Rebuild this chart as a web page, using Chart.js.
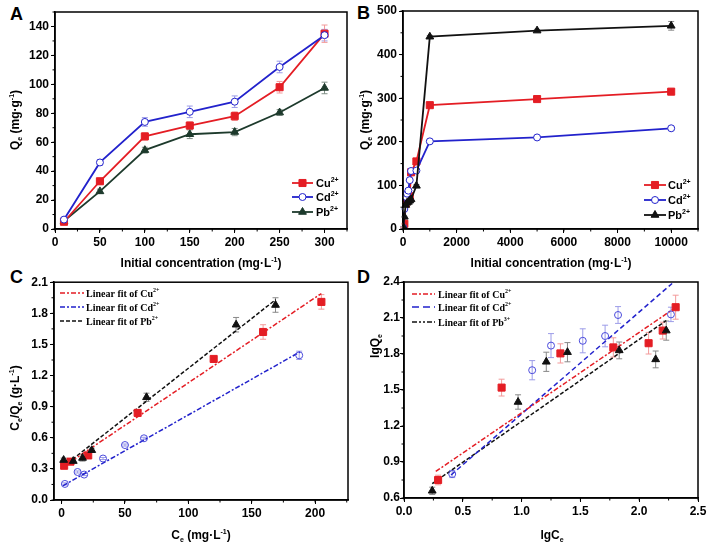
<!DOCTYPE html>
<html>
<head>
<meta charset="utf-8">
<script src="https://cdn.jsdelivr.net/npm/chart.js@4.4.0/dist/chart.umd.min.js"></script>
<style>
body { margin: 0; background: #fff; width: 709px; height: 547px; position: relative; overflow: hidden; }
canvas { position: absolute; }
.lab { position: absolute; font: bold 18px "Liberation Sans", Arial, sans-serif; line-height: 18px; color: #000; }
</style>
</head>
<body>
<div class="lab" style="left:10px;top:5px">A</div>
<div class="lab" style="left:357px;top:4px">B</div>
<div class="lab" style="left:10px;top:268px">C</div>
<div class="lab" style="left:357px;top:268px">D</div>
<canvas id="cA" width="354" height="273" style="left:0;top:0"></canvas>
<canvas id="cB" width="355" height="273" style="left:354px;top:0"></canvas>
<canvas id="cC" width="354" height="274" style="left:0;top:273px"></canvas>
<canvas id="cD" width="355" height="274" style="left:354px;top:273px"></canvas>
<script>
// ---- data ----
var ions = ['Cu', 'Cd', 'Pb'];

// A: Qe vs initial concentration (low range)
var concA = [10, 50, 100, 150, 200, 250, 300];
var cuA = [5, 33, 64, 71.5, 78, 98, 135];
var cdA = [6.5, 46, 74, 81, 88, 112, 134];
var pbA = [5.5, 26, 54.5, 65.5, 67, 80.5, 97.5];
var cuAErr = [1.5, 2, 2.5, 2.5, 3, 4, 6];
var cdAErr = [1.5, 2, 3, 4, 4, 4, 4];
var pbAErr = [1, 1.5, 2, 3, 2.5, 2, 4];

// B: Qe vs initial concentration (full range)
var concB = [10, 50, 100, 150, 200, 250, 300, 500, 1000, 5000, 10000];
var cuB = [3, 12, 58, 64, 68, 75, 130, 155, 284, 298, 315];
var cdB = [3, 46, 74, 81, 88, 112, 133, 134, 201, 210, 231];
var pbB = [5, 28, 55, 60, 62, 65, 68, 99, 441, 455, 466];
var cuBErr = [1, 1, 2, 2, 2, 2, 3, 3, 3, 3, 4];
var cdBErr = [1, 1, 2, 2, 2, 2, 3, 3, 3, 3, 3];
var pbBErr = [1, 1, 2, 2, 2, 2, 3, 3, 3, 3, 10];

// C: Langmuir, Ce/Qe vs Ce
var ceCu = [2, 7, 21, 60, 120, 159, 205];
var ratioCu = [0.33, 0.37, 0.43, 0.84, 1.36, 1.62, 1.91];
var ratioCuErr = [0.02, 0.01, 0.02, 0.03, 0.02, 0.07, 0.07];
var ceCd = [2.6, 12.6, 17.8, 32.7, 50, 65, 187.5];
var ratioCd = [0.155, 0.27, 0.245, 0.40, 0.53, 0.595, 1.395];
var ratioCdErr = [0.01, 0.01, 0.01, 0.01, 0.01, 0.01, 0.04];
var cePb = [1.6, 9.2, 16.5, 23.8, 67, 137.7, 168.8];
var ratioPb = [0.385, 0.375, 0.405, 0.48, 0.99, 1.69, 1.88];
var ratioPbErr = [0.02, 0.01, 0.03, 0.02, 0.04, 0.07, 0.07];
var cSlope = [0.0082, 0.0069, 0.0096];
var cIntercept = [0.31, 0.13, 0.31];
var cFrom = [1, 1, 1];
var cTo = [205, 188, 169];

// D: Freundlich, lgQe vs lgCe
var lgCeCu = [0.29, 0.83, 1.33, 1.78, 2.08, 2.20, 2.31];
var lgQeCu = [0.75, 1.52, 1.805, 1.855, 1.89, 1.995, 2.19];
var lgQeCuErr = [0.04, 0.07, 0.08, 0.08, 0.09, 0.07, 0.1];
var lgCeCd = [0.41, 1.09, 1.25, 1.52, 1.71, 1.82, 2.27];
var lgQeCd = [0.80, 1.665, 1.87, 1.91, 1.95, 2.125, 2.13];
var lgQeCdErr = [0.03, 0.08, 0.1, 0.1, 0.09, 0.07, 0.06];
var lgCePb = [0.24, 0.97, 1.21, 1.39, 1.83, 2.14, 2.23];
var lgQePb = [0.66, 1.40, 1.735, 1.815, 1.83, 1.755, 1.995];
var lgQePbErr = [0.03, 0.06, 0.08, 0.08, 0.07, 0.07, 0.08];
var dSlope = [0.67, 0.849, 0.683];
var dIntercept = [0.64, 0.452, 0.556];
var dFrom = [0.27, 0.40, 0.24];
var dTo = [2.30, 2.28, 2.23];

// tick values
var ticksAx = [0, 50, 100, 150, 200, 250, 300];
var ticksAy = [0, 20, 40, 60, 80, 100, 120, 140];
var ticksBx = [0, 2000, 4000, 6000, 8000, 10000];
var ticksBy = [0, 100, 200, 300, 400, 500];
var ticksCx = [0, 50, 100, 150, 200];
var ticksCy = [0, 0.3, 0.6, 0.9, 1.2, 1.5, 1.8, 2.1];
var ticksDx = [0, 0.5, 1.0, 1.5, 2.0, 2.5];
var ticksDy = [0.6, 0.9, 1.2, 1.5, 1.8, 2.1, 2.4];

var RED = '#e41d24', BLUE = '#2222cc', PBA = '#1d3a2c', BLK = '#111';
var SANS = '"Liberation Sans", Arial, sans-serif';
var SERIF = '"Liberation Serif", "Times New Roman", serif';

function pts(xs, ys) { return xs.map((x, i) => ({ x: x, y: ys[i] })); }
function fitPts(k) { return [cFrom[k], cTo[k]].map(x => ({ x: x, y: cIntercept[k] + cSlope[k] * x })); }
function fitPtsD(k) { return [dFrom[k], dTo[k]].map(x => ({ x: x, y: dIntercept[k] + dSlope[k] * x })); }

function drawMarker(ctx, style, x, y, r, fill, stroke) {
  ctx.save();
  ctx.setLineDash([]);
  ctx.fillStyle = fill; ctx.strokeStyle = stroke; ctx.lineWidth = 1;
  ctx.beginPath();
  if (style == 'rect') {
    var s = r * Math.SQRT1_2;
    ctx.rect(x - s, y - s, 2 * s, 2 * s);
  } else if (style == 'triangle') {
    var a = 0;
    ctx.moveTo(x + Math.sin(a) * r, y - Math.cos(a) * r);
    a += 2 * Math.PI / 3;
    ctx.lineTo(x + Math.sin(a) * r, y - Math.cos(a) * r);
    a += 2 * Math.PI / 3;
    ctx.lineTo(x + Math.sin(a) * r, y - Math.cos(a) * r);
    ctx.closePath();
  } else {
    ctx.arc(x, y, r, 0, Math.PI * 2);
  }
  ctx.fill(); ctx.stroke();
  ctx.restore();
}

// text with sub / superscripts: parts = [[text, ''|'sup'|'sub'], ...]
function richText(ctx, parts, x, y, size, family, align, rot) {
  var big = 'bold ' + size + 'px ' + family;
  var small = 'bold ' + Math.round(size * 0.62) + 'px ' + family;
  ctx.save();
  ctx.translate(x, y);
  if (rot) ctx.rotate(-Math.PI / 2);
  ctx.fillStyle = '#000';
  ctx.textBaseline = 'alphabetic';
  ctx.textAlign = 'left';
  var w = 0;
  parts.forEach(p => { ctx.font = p[1] ? small : big; w += ctx.measureText(p[0]).width; });
  var cx = align == 'left' ? 0 : -w / 2;
  var base = size * 0.36;
  parts.forEach(p => {
    ctx.font = p[1] ? small : big;
    var dy = p[1] == 'sup' ? -size * 0.45 : (p[1] == 'sub' ? size * 0.25 : 0);
    ctx.fillText(p[0], cx, base + dy);
    cx += ctx.measureText(p[0]).width;
  });
  ctx.restore();
}

var errorBars = {
  id: 'errorBars',
  beforeDatasetsDraw(chart) {
    var ctx = chart.ctx, xs = chart.scales.x, ys = chart.scales.y;
    chart.data.datasets.forEach(ds => {
      if (!ds.errors) return;
      ctx.save();
      ctx.strokeStyle = ds.errorColor;
      ctx.lineWidth = 1;
      ds.data.forEach((p, i) => {
        var e = ds.errors[i];
        if (!e) return;
        var px = xs.getPixelForValue(p.x);
        var y1 = ys.getPixelForValue(p.y - e), y2 = ys.getPixelForValue(p.y + e);
        ctx.beginPath();
        ctx.moveTo(px, y1); ctx.lineTo(px, y2);
        ctx.moveTo(px - 3, y1); ctx.lineTo(px + 3, y1);
        ctx.moveTo(px - 3, y2); ctx.lineTo(px + 3, y2);
        ctx.stroke();
      });
      ctx.restore();
    });
  }
};

function sup(name, charge) { return [[name, ''], [charge, 'sup']]; }

var extras = {
  cA: {
    minorX: 25, minorY: 10,
    xTitle: [[['Initial concentration (mg·L', ''], ['-1', 'sup'], [')', '']], 201, 263],
    yTitle: [[['Q', ''], ['e', 'sub'], [' (mg·g', ''], ['-1', 'sup'], [')', '']], 15, 120],
    legend: { x1: 292, x2: 313, tx: 316, ys: [183, 197, 212], family: SANS, size: 11,
      items: [
        { parts: sup('Cu', '2+'), color: RED, marker: 'rect', r: 5, fill: RED },
        { parts: sup('Cd', '2+'), color: BLUE, marker: 'circle', r: 3.5, fill: '#fff' },
        { parts: sup('Pb', '2+'), color: PBA, marker: 'triangle', r: 4.5, fill: PBA }
      ] }
  },
  cB: {
    minorX: 1000, minorY: 50,
    xTitle: [[['Initial concentration (mg·L', ''], ['-1', 'sup'], [')', '']], 197, 263],
    yTitle: [[['Q', ''], ['e', 'sub'], [' (mg·g', ''], ['-1', 'sup'], [')', '']], 11, 120],
    legend: { x1: 290, x2: 312, tx: 314, ys: [185, 200, 215], family: SANS, size: 11,
      items: [
        { parts: sup('Cu', '2+'), color: RED, marker: 'rect', r: 5, fill: RED },
        { parts: sup('Cd', '2+'), color: BLUE, marker: 'circle', r: 3.5, fill: '#fff' },
        { parts: sup('Pb', '2+'), color: BLK, marker: 'triangle', r: 4.5, fill: BLK }
      ] }
  },
  cC: {
    minorX: 25, minorY: 0.15,
    xTitle: [[['C', ''], ['e', 'sub'], [' (mg·L', ''], ['-1', 'sup'], [')', '']], 201, 262],
    yTitle: [[['C', ''], ['e', 'sub'], ['/Q', ''], ['e', 'sub'], [' (g·L', ''], ['-1', 'sup'], [')', '']], 15, 125],
    legend: { x1: 60, x2: 84, tx: 86, ys: [20, 34, 48], family: SERIF, size: 10,
      items: [
        { parts: [['Linear fit of Cu', ''], ['2+', 'sup']], color: RED, dash: [5, 2, 2, 2] },
        { parts: [['Linear fit of Cd', ''], ['2+', 'sup']], color: BLUE, dash: [5, 2, 2, 2] },
        { parts: [['Linear fit of Pb', ''], ['2+', 'sup']], color: BLK, dash: [4, 2] }
      ] }
  },
  cD: {
    minorX: 0.25, minorY: 0.15,
    xTitle: [[['lgC', ''], ['e', 'sub']], 198, 262],
    yTitle: [[['lgQ', ''], ['e', 'sub']], 21, 73],
    legend: { x1: 58, x2: 81, tx: 84, ys: [21, 34, 49], family: SERIF, size: 10,
      items: [
        { parts: [['Linear fit of Cu', ''], ['2+', 'sup']], color: RED, dash: [5, 2, 2, 2] },
        { parts: [['Linear fit of Cd', ''], ['2+', 'sup']], color: BLUE, dash: [7, 4] },
        { parts: [['Linear fit of Pb', ''], ['3+', 'sup']], color: BLK, dash: [5, 2, 2, 2, 2, 2] }
      ] }
  }
};

var extrasPlugin = {
  id: 'extras',
  afterDraw(chart) {
    var ex = extras[chart.canvas.id];
    var ctx = chart.ctx, a = chart.chartArea, xs = chart.scales.x, ys = chart.scales.y;
    ctx.save();
    // frame
    ctx.strokeStyle = '#000';
    ctx.lineWidth = 1.5;
    ctx.strokeRect(a.left, a.top, a.right - a.left, a.bottom - a.top);
    // minor ticks
    ctx.lineWidth = 1;
    ctx.beginPath();
    for (var k = Math.ceil(xs.min / ex.minorX); k * ex.minorX <= xs.max + 1e-9; k++) {
      var px = xs.getPixelForValue(k * ex.minorX);
      ctx.moveTo(px, a.bottom); ctx.lineTo(px, a.bottom + 2.5);
    }
    for (var j = Math.ceil(ys.min / ex.minorY - 1e-9); j * ex.minorY <= ys.max + 1e-9; j++) {
      var py = ys.getPixelForValue(j * ex.minorY);
      ctx.moveTo(a.left, py); ctx.lineTo(a.left - 2.5, py);
    }
    ctx.stroke();
    ctx.restore();
    // axis titles
    richText(ctx, ex.xTitle[0], ex.xTitle[1], ex.xTitle[2], 12, SANS, 'center', false);
    richText(ctx, ex.yTitle[0], ex.yTitle[1], ex.yTitle[2], 12, SANS, 'center', true);
    // legend
    var lg = ex.legend;
    lg.items.forEach((it, i) => {
      var y = lg.ys[i];
      ctx.save();
      ctx.strokeStyle = it.color;
      ctx.lineWidth = it.dash ? 1.5 : 1.8;
      ctx.setLineDash(it.dash || []);
      ctx.beginPath(); ctx.moveTo(lg.x1, y); ctx.lineTo(lg.x2, y); ctx.stroke();
      ctx.restore();
      if (it.marker) drawMarker(ctx, it.marker, (lg.x1 + lg.x2) / 2, y, it.r, it.fill, it.color);
      richText(ctx, it.parts, lg.tx, y, lg.size, lg.family, 'left', false);
    });
  }
};

var tickFont = { family: SANS, weight: 'bold', size: 12 };

function axis(dir, min, max, ticks, size, digits, pad) {
  return {
    type: 'linear', min: min, max: max,
    afterBuildTicks: s => { s.ticks = ticks.map(v => ({ value: v })); },
    afterFit: s => { if (dir == 'x') s.height = size; else s.width = size; },
    ticks: {
      font: tickFont, color: '#000', padding: pad == null ? 2 : pad, maxRotation: 0, autoSkip: false,
      callback: v => digits ? v.toFixed(digits) : String(v)
    },
    grid: { drawOnChartArea: false, drawTicks: true, tickLength: 4, color: '#000', tickColor: '#000', tickWidth: 1 },
    border: { display: true, color: '#000', width: 1.5 },
    title: { display: false }
  };
}

function makeChart(id, datasets, pad, xAxis, yAxis) {
  return new Chart(document.getElementById(id), {
    type: 'scatter',
    data: { datasets: datasets },
    options: {
      responsive: false, animation: false,
      layout: { padding: pad },
      plugins: { legend: { display: false }, tooltip: { enabled: false } },
      scales: { x: xAxis, y: yAxis }
    },
    plugins: [errorBars, extrasPlugin]
  });
}

function series(xs, ys, errs, color, errColor, style, r, fill, line) {
  return {
    data: pts(xs, ys), errors: errs, errorColor: errColor,
    showLine: line, borderColor: color, borderWidth: 1.8,
    pointStyle: style, pointRadius: r, pointBackgroundColor: fill,
    pointBorderColor: color, pointBorderWidth: 1
  };
}

function fitLine(data, color, dash) {
  return { data: data, showLine: true, borderColor: color, borderWidth: 1.5, borderDash: dash, pointRadius: 0 };
}

makeChart('cA', [
  series(concA, cdA, cdAErr, BLUE, '#9c9ce8', 'circle', 3.5, '#fff', true),
  series(concA, cuA, cuAErr, RED, '#f39a9a', 'rect', 5, RED, true),
  series(concA, pbA, pbAErr, PBA, '#7f8f86', 'triangle', 4.5, PBA, true)
], { left: 0, right: 7, top: 12, bottom: 0 },
  axis('x', 0, 325, ticksAx, 44), axis('y', 0, 150, ticksAy, 55));

makeChart('cB', [
  series(concB, pbB, pbBErr, BLK, '#888', 'triangle', 4.5, BLK, true),
  series(concB, cdB, cdBErr, BLUE, '#9c9ce8', 'circle', 3.5, '#fff', true),
  series(concB, cuB, cuBErr, RED, '#f39a9a', 'rect', 5, RED, true)
], { left: 0, right: 11, top: 11, bottom: 0 },
  axis('x', 0, 11000, ticksBx, 44), axis('y', 0, 500, ticksBy, 49));

makeChart('cC', [
  series(cePb, ratioPb, ratioPbErr, BLK, '#888', 'triangle', 4.5, BLK, false),
  series(ceCu, ratioCu, ratioCuErr, RED, '#f39a9a', 'rect', 5, RED, false),
  series(ceCd, ratioCd, ratioCdErr, '#4b4bdc', '#9c9ce8', 'circle', 3.5, 'rgba(255,255,255,0)', false),
  fitLine(fitPts(0), RED, [5, 2, 2, 2]),
  fitLine(fitPts(1), BLUE, [5, 2, 2, 2]),
  fitLine(fitPts(2), BLK, [4, 2])
], { left: 0, right: 6, top: 9, bottom: 0 },
  axis('x', -6, 226, ticksCx, 47), axis('y', 0, 2.1, ticksCy, 54, 1));

makeChart('cD', [
  series(lgCePb, lgQePb, lgQePbErr, BLK, '#888', 'triangle', 4.5, BLK, false),
  series(lgCeCu, lgQeCu, lgQeCuErr, RED, '#f39a9a', 'rect', 5, RED, false),
  series(lgCeCd, lgQeCd, lgQeCdErr, '#4b4bdc', '#9c9ce8', 'circle', 3.5, 'rgba(255,255,255,0)', false),
  fitLine(fitPtsD(0), RED, [5, 2, 2, 2]),
  fitLine(fitPtsD(1), BLUE, [5, 3]),
  fitLine(fitPtsD(2), BLK, [4, 2])
], { left: 0, right: 11, top: 9, bottom: 0 },
  axis('x', 0, 2.5, ticksDx, 49, 1), axis('y', 0.6, 2.4, ticksDy, 50, 1, 0));
</script>
</body>
</html>
